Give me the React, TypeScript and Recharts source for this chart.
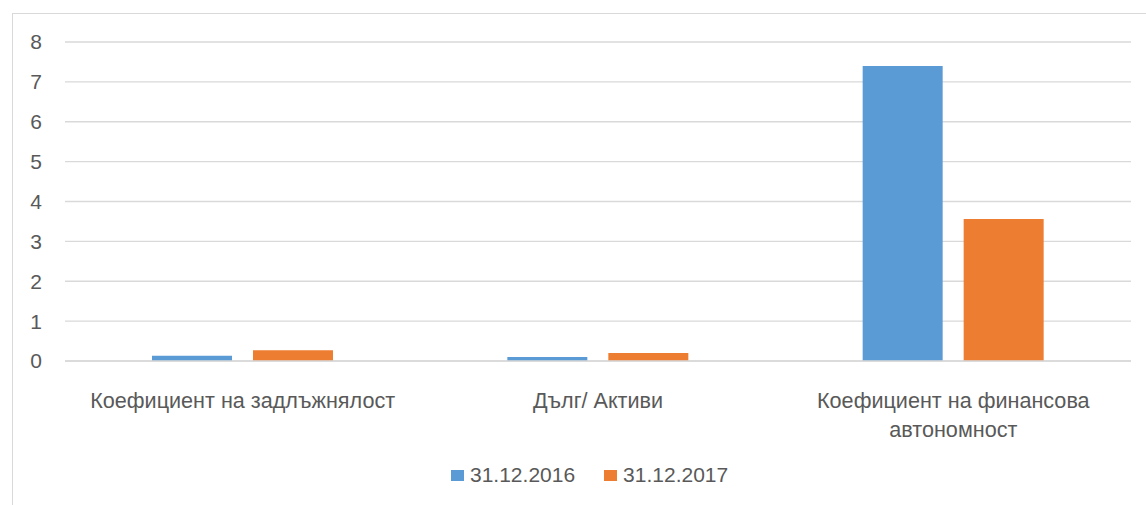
import React from "react";
import { BarChart, Bar, XAxis, YAxis, CartesianGrid } from "recharts";

const categories = [
  "Коефициент на задлъжнялост",
  "Дълг/ Активи",
  "Коефициент на финансова автономност",
];
const series2016 = [0.13, 0.1, 7.4];
const series2017 = [0.27, 0.2, 3.56];
const yTicks = [0, 1, 2, 3, 4, 5, 6, 7, 8];
const seriesNames = ["31.12.2016", "31.12.2017"];

const data = categories.map((c, i) => ({
  name: c,
  a: series2016[i],
  b: series2017[i],
}));

const FONT = "'Liberation Sans', Arial, sans-serif";
const TEXT = "#595959";
const BLUE = "#5B9BD5";
const ORANGE = "#ED7D31";
const FS = 21;

function wrap(label: string, maxChars: number): string[] {
  const words = label.split(" ");
  const lines: string[] = [];
  let cur = "";
  for (const w of words) {
    const next = cur ? cur + " " + w : w;
    if (next.length > maxChars && cur) {
      lines.push(cur);
      cur = w;
    } else cur = next;
  }
  if (cur) lines.push(cur);
  return lines;
}

const XTick = (props: any) => {
  const { x, y, payload } = props;
  const lines = wrap(String(payload.value), 28);
  return (
    <g>
      {lines.map((l, i) => (
        <text
          key={i}
          x={x}
          y={y + 39 + i * 29}
          textAnchor="middle"
          fill={TEXT}
          fontSize={21.6}
          fontFamily={FONT}
        >
          {l}
        </text>
      ))}
    </g>
  );
};

export default function App() {
  return (
    <div style={{ position: "absolute", left: 0, top: 0, width: 1146, height: 505, overflow: "hidden", background: "#fff" }}>
      <div style={{ position: "absolute", left: 12, top: 13, width: 1160, height: 520, border: "1px solid #d9d9d9" }} />
      <div style={{ position: "absolute", left: 0, top: 0 }}>
        <BarChart
          width={1146}
          height={505}
          data={data}
          margin={{ top: 42, right: 15, bottom: 44, left: 0 }}
          barCategoryGap={87}
          barGap={21}
        >
          <CartesianGrid vertical={false} stroke="#d9d9d9" strokeWidth={1.3} />
          <XAxis
            dataKey="name"
            axisLine={{ stroke: "#d9d9d9", strokeWidth: 1.3 }}
            tickLine={false}
            tick={<XTick />}
            interval={0}
            height={100}
          />
          <YAxis
            width={65}
            domain={[0, 8]}
            ticks={yTicks}
            axisLine={false}
            tickLine={false}
            tickSize={0}
            tickMargin={23}
            tick={{ fill: TEXT, fontSize: FS, fontFamily: FONT }}
          />
          <Bar dataKey="a" name={seriesNames[0]} fill={BLUE} isAnimationActive={false} />
          <Bar dataKey="b" name={seriesNames[1]} fill={ORANGE} isAnimationActive={false} />
        </BarChart>
      </div>
      <div
        style={{
          position: "absolute",
          left: 451,
          top: 462,
          display: "flex",
          alignItems: "center",
          fontFamily: FONT,
          fontSize: FS,
          color: TEXT,
          lineHeight: "26px",
          whiteSpace: "nowrap",
        }}
      >
        {seriesNames.map((n, i) => (
          <div key={n} style={{ display: "flex", alignItems: "center", marginRight: i === 0 ? 29 : 0 }}>
            <span style={{ display: "inline-block", width: 13, height: 11, background: i === 0 ? BLUE : ORANGE, marginRight: 6 }} />
            <span>{n}</span>
          </div>
        ))}
      </div>
    </div>
  );
}
